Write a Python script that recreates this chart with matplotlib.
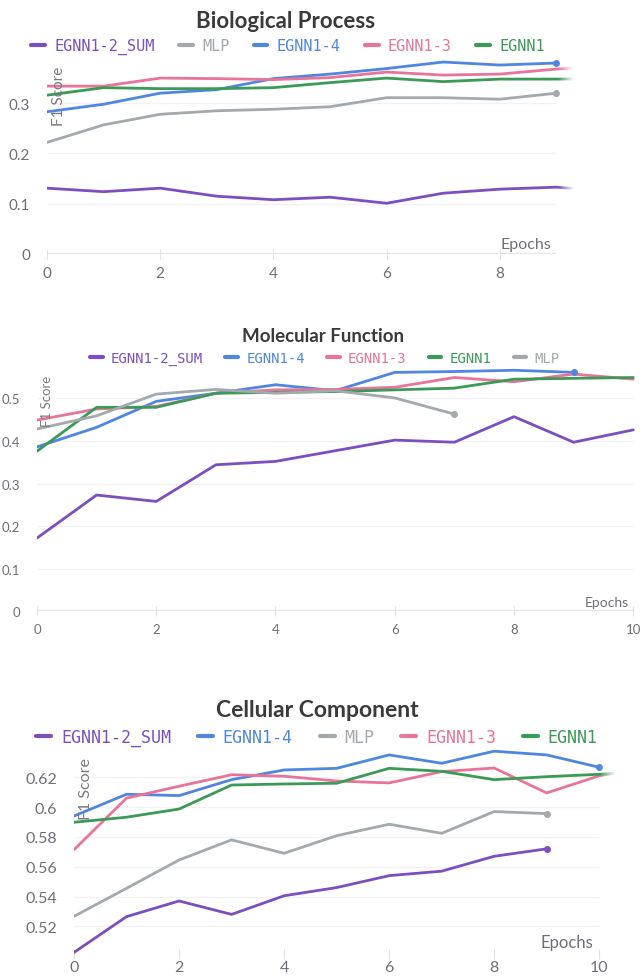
import matplotlib
matplotlib.use("Agg")
import matplotlib.pyplot as plt
import numpy as np

plt.rcParams['font.family'] = ['Lato', 'DejaVu Sans']

W, H = 641, 979

# Colors used by every panel
colors = {
    'EGNN1-2_SUM': '#7b4fc0',
    'MLP': '#a3a9ad',
    'EGNN1-4': '#4f87e0',
    'EGNN1-3': '#e87499',
    'EGNN1': '#3b9a57',
}

# Biological Process (F1 per epoch)
bp_order = ['EGNN1-2_SUM', 'MLP', 'EGNN1-4', 'EGNN1-3', 'EGNN1']
bp_sum = [0.131, 0.124, 0.131, 0.115, 0.108, 0.113, 0.101, 0.121, 0.129, 0.133, 0.124]
bp_mlp = [0.222, 0.257, 0.278, 0.285, 0.288, 0.293, 0.311, 0.311, 0.308, 0.320]
bp_egnn14 = [0.283, 0.298, 0.320, 0.327, 0.349, 0.358, 0.369, 0.382, 0.376, 0.380]
bp_egnn13 = [0.334, 0.334, 0.350, 0.349, 0.347, 0.351, 0.362, 0.356, 0.358, 0.368, 0.374]
bp_egnn1 = [0.316, 0.331, 0.329, 0.329, 0.331, 0.341, 0.350, 0.343, 0.348, 0.348, 0.349]
bp_yticks = [0, 0.1, 0.2, 0.3]
bp_ylabels = ['0', '0.1', '0.2', '0.3']

# Molecular Function
mf_order = ['EGNN1-2_SUM', 'EGNN1-4', 'EGNN1-3', 'EGNN1', 'MLP']
mf_sum = [0.172, 0.273, 0.258, 0.344, 0.352, 0.377, 0.402, 0.397, 0.457, 0.397, 0.426]
mf_egnn14 = [0.386, 0.432, 0.493, 0.512, 0.532, 0.518, 0.561, 0.563, 0.566, 0.561]
mf_egnn13 = [0.449, 0.475, 0.481, 0.512, 0.520, 0.521, 0.526, 0.549, 0.539, 0.557, 0.545]
mf_egnn1 = [0.376, 0.479, 0.479, 0.512, 0.514, 0.516, 0.520, 0.524, 0.545, 0.547, 0.549]
mf_mlp = [0.428, 0.459, 0.510, 0.521, 0.512, 0.518, 0.501, 0.463]
mf_yticks = [0, 0.1, 0.2, 0.3, 0.4, 0.5]
mf_ylabels = ['0', '0.1', '0.2', '0.3', '0.4', '0.5']

# Cellular Component
cc_order = ['EGNN1-2_SUM', 'EGNN1-4', 'MLP', 'EGNN1-3', 'EGNN1']
cc_sum = [0.5025, 0.5265, 0.537, 0.528, 0.5405, 0.546, 0.554, 0.557, 0.567, 0.572]
cc_egnn14 = [0.594, 0.6086, 0.6077, 0.6184, 0.6249, 0.626, 0.635, 0.6294, 0.6375, 0.635, 0.6267]
cc_mlp = [0.5267, 0.5455, 0.5645, 0.578, 0.569, 0.5808, 0.5885, 0.5824, 0.597, 0.5956]
cc_egnn13 = [0.5714, 0.606, 0.614, 0.6217, 0.6207, 0.6175, 0.6162, 0.6238, 0.6262, 0.6095, 0.621, 0.627]
cc_egnn1 = [0.5898, 0.5932, 0.5987, 0.6148, 0.6155, 0.616, 0.626, 0.624, 0.6184, 0.6204, 0.622, 0.624]
cc_yticks = [0.52, 0.54, 0.56, 0.58, 0.6, 0.62]
cc_ylabels = ['0.52', '0.54', '0.56', '0.58', '0.6', '0.62']


def px_box(left, top, right, bottom):
    return [left / W, 1 - bottom / H, (right - left) / W, (bottom - top) / H]


def draw_panel(fig, box, title, title_xy, title_size, order, data, yticks, ylabels,
               xlim, ylim, x_end, xticks, fs, legend_xy, legend_fs, fade=None,
               baseline=True, ylabel_xy=None, epochs_xy=None, xpad=5):
    ax = fig.add_axes(px_box(*box))

    longest = max(len(v) for v in data.values())
    for name in order:
        vals = data[name]
        x = np.arange(len(vals))
        ax.plot(x, vals, color=colors[name], lw=2.0, label=name, zorder=3,
                solid_capstyle='round')
        # dot on series that stop inside the chart
        if len(vals) < longest:
            ax.plot(x[-1], vals[-1], 'o', color=colors[name], ms=4, zorder=4)

    # light horizontal grid
    for yt in yticks:
        if baseline and yt == ylim[0]:
            continue
        ax.hlines(yt, 0, x_end, color='#f2f2f2', lw=1, zorder=1)
    if baseline:
        ax.hlines(ylim[0], 0, x_end, color='#e4e4e4', lw=1.6, zorder=1)

    # white gradient to fade out lines running past the last epoch
    if fade is not None:
        grad = np.ones((1, 64, 4))
        grad[0, :, 3] = np.linspace(0, 1, 64)
        ax.imshow(grad, extent=[fade[0], fade[1], ylim[0], ylim[1]],
                  aspect='auto', zorder=5, interpolation='bilinear')

    ax.set_xlim(*xlim)
    ax.set_ylim(*ylim)
    for s in ax.spines.values():
        s.set_visible(False)

    ax.set_xticks(xticks)
    ax.set_xticklabels([str(t) for t in xticks])
    ax.set_yticks(yticks)
    ax.set_yticklabels(ylabels)
    ax.tick_params(axis='x', length=7, direction='inout', color='#e2e2e2',
                   labelsize=fs, labelcolor='#6f6f78', pad=xpad)
    ax.tick_params(axis='y', length=0, labelsize=fs, labelcolor='#6f6f78', pad=12)

    fig.text(title_xy[0] / W, 1 - title_xy[1] / H, title, ha='center', va='center',
             fontsize=title_size, fontweight='bold', color='#3a3a3a')

    fig.text(ylabel_xy[0] / W, 1 - ylabel_xy[1] / H, 'F1 Score', rotation=90,
             ha='center', va='top', fontsize=fs, color='#7a7a80')
    fig.text(epochs_xy[0] / W, 1 - epochs_xy[1] / H, 'Epochs', ha='right',
             va='center', fontsize=fs + 0.5, color='#6f6f78')

    leg = ax.legend(loc='center', bbox_to_anchor=(legend_xy[0] / W, 1 - legend_xy[1] / H),
                    bbox_transform=fig.transFigure, ncol=len(order), frameon=False,
                    handlelength=0.9, handletextpad=0.6, columnspacing=1.6,
                    prop={'family': 'DejaVu Sans Mono', 'size': legend_fs})
    for line, text in zip(leg.get_lines(), leg.get_texts()):
        line.set_linewidth(3)
        text.set_color(line.get_color())
    return ax


fig = plt.figure(figsize=(W / 100, H / 100), dpi=100)

draw_panel(fig, (47, 59, 573.4, 255), 'Biological Process', (286, 22), 16,
           bp_order,
           {'EGNN1-2_SUM': bp_sum, 'MLP': bp_mlp, 'EGNN1-4': bp_egnn14,
            'EGNN1-3': bp_egnn13, 'EGNN1': bp_egnn1},
           bp_yticks, bp_ylabels, (0, 9.3), (0, 0.39), 9, [0, 2, 4, 6, 8],
           11, (288, 47), 11, fade=(9.02, 9.3), baseline=True,
           ylabel_xy=(58.6, 67), epochs_xy=(551, 245))

draw_panel(fig, (37, 367, 641, 612.3), 'Molecular Function', (323, 337), 13.5,
           mf_order,
           {'EGNN1-2_SUM': mf_sum, 'EGNN1-4': mf_egnn14, 'EGNN1-3': mf_egnn13,
            'EGNN1': mf_egnn1, 'MLP': mf_mlp},
           mf_yticks, mf_ylabels, (0, 10.13), (0, 0.576), 10, [0, 2, 4, 6, 8, 10],
           9.5, (325, 359), 10, fade=None, baseline=True,
           ylabel_xy=(47, 376), epochs_xy=(629, 603))

draw_panel(fig, (74, 750.7, 615, 954.9), 'Cellular Component', (317, 711), 16.5,
           cc_order,
           {'EGNN1-2_SUM': cc_sum, 'EGNN1-4': cc_egnn14, 'MLP': cc_mlp,
            'EGNN1-3': cc_egnn13, 'EGNN1': cc_egnn1},
           cc_yticks, cc_ylabels, (0, 10.3), (0.5015, 0.6385), 10, [0, 2, 4, 6, 8, 10],
           11.5, (317, 738), 12, fade=(10.02, 10.3), baseline=False,
           ylabel_xy=(86, 758), epochs_xy=(593, 943), xpad=1)

fig.savefig('out.png', dpi=100)
